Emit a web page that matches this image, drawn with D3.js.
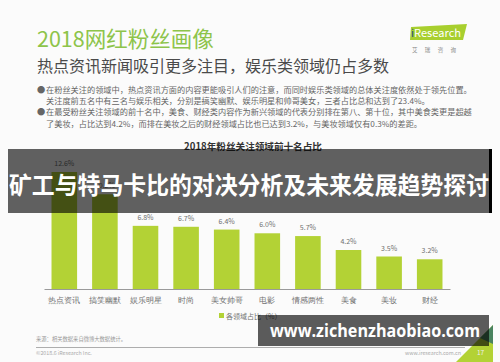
<!DOCTYPE html>
<meta charset="utf-8">
<style>
    body { margin: 0; background: #fbfbfb; }
    svg { font-family: "Noto Sans CJK SC", "Noto Sans", sans-serif; display: block; }
    .axis path { stroke: #9a9a9a; }
    .axis text { fill: #707070; font-size: 7.5px; }
</style>
<body>
<script src="https://d3js.org/d3.v7.min.js"></script>
<script>
    const width = 500, height = 362;

    // chart data
    const categories = ["热点资讯", "搞笑幽默", "娱乐明星", "时尚", "美女帅哥", "电影", "情感两性", "美食", "美妆", "财经"];
    const shares = [12.6, 10.2, 6.8, 6.7, 6.4, 6.0, 5.7, 4.2, 3.5, 3.2];

    const bullets = [
        ["● ", "在粉丝关注的领域中，热点资讯方面的内容更能吸引人们的注意，而同时娱乐类领域的总体关注度依然处于领先位置。"],
        ["", "关注度前五名中有三名与娱乐相关，分别是搞笑幽默、娱乐明星和帅哥美女，三者占比总和达到了23.4%。"],
        ["● ", "在最受粉丝关注领域的前十名中，美食、财经类内容作为新兴领域的代表分别排在第八、第十位，其中美食类更是超越"],
        ["", "了美妆，占比达到4.2%，而排在美妆之后的财经领域占比也已达到3.2%，与美妆领域仅有0.3%的差距。"]
    ];

    const green = "#b3d235";

    const svg = d3.select("body").append("svg")
        .attr("width", width)
        .attr("height", height);

    svg.append("rect").attr("width", width).attr("height", height).attr("fill", "#fbfbfb");

    // header
    svg.append("text")
        .attr("x", 37).attr("y", 47)
        .attr("fill", "#8dc44a")
        .style("font-size", "21.5px")
        .text("2018网红粉丝画像");

    svg.append("text")
        .attr("x", 37).attr("y", 72)
        .attr("fill", "#4a4a4a")
        .style("font-size", "16px")
        .text("热点资讯新闻吸引更多注目，娱乐类领域仍占多数");

    // logo
    const logo = svg.append("g");
    logo.append("path")
        .attr("d", "M411,27 L467,24 L463,40 L410,40 Z")
        .attr("fill", "#a8cf2e");
    const lt = logo.append("text")
        .attr("x", 411).attr("y", 37)
        .style("font-size", "11px")
        .attr("fill", "#fff")
        .attr("textLength", 50)
        .attr("lengthAdjust", "spacingAndGlyphs");
    lt.append("tspan").attr("fill", "#1d4e89").text("i");
    lt.append("tspan").text("Research");
    logo.append("text")
        .attr("x", 412).attr("y", 52)
        .attr("fill", "#888")
        .style("font-size", "5.5px")
        .attr("textLength", 44)
        .text("艾瑞咨询");

    // bullet paragraph
    svg.append("g").selectAll("text")
        .data(bullets)
        .join("text")
        .attr("y", (d, i) => 93 + i * 11.2)
        .attr("fill", "#666")
        .style("font-size", "8.2px")
        .each(function(d) {
            const t = d3.select(this);
            t.append("tspan").attr("x", 37).text(d[0] ? "●" : "");
            t.append("tspan").attr("x", 46).text(d[1]);
        });

    // chart title
    svg.append("text")
        .attr("x", 253).attr("y", 150)
        .attr("text-anchor", "middle")
        .attr("fill", "#333")
        .style("font-size", "9.6px")
        .style("font-weight", "bold")
        .text("2018年粉丝关注领域前十名占比");

    // scales
    const x = d3.scaleBand()
        .domain(categories)
        .range([44, 450])
        .paddingInner(0.37)
        .paddingOuter(0.185);

    const y = d3.scaleLinear()
        .domain([0, 14])
        .range([289, 159]);

    const chart = svg.append("g");

    chart.selectAll(".bar")
        .data(categories)
        .join("rect")
        .attr("class", "bar")
        .attr("x", d => x(d))
        .attr("y", (d, i) => y(shares[i]))
        .attr("width", x.bandwidth())
        .attr("height", (d, i) => y(0) - y(shares[i]))
        .attr("fill", green);

    chart.selectAll(".val")
        .data(categories)
        .join("text")
        .attr("class", "val")
        .attr("x", d => x(d) + x.bandwidth() / 2)
        .attr("y", (d, i) => y(shares[i]) - 6)
        .attr("text-anchor", "middle")
        .attr("fill", "#707070")
        .style("font-size", "7px")
        .text((d, i) => shares[i].toFixed(1) + "%");

    chart.append("g")
        .attr("class", "axis")
        .attr("transform", "translate(0," + y(0) + ")")
        .call(d3.axisBottom(x).tickSize(0).tickPadding(9).tickSizeOuter(0))
        .call(g => g.select(".domain").attr("stroke", "#9a9a9a"));

    // legend
    svg.append("rect")
        .attr("x", 219).attr("y", 313)
        .attr("width", 5).attr("height", 5)
        .attr("fill", green);
    svg.append("text")
        .attr("x", 226).attr("y", 318.5)
        .attr("fill", "#707070")
        .style("font-size", "7px")
        .text("各领域占比（%）");

    // footer
    svg.append("text")
        .attr("x", 36).attr("y", 341)
        .attr("fill", "#999")
        .style("font-size", "5.3px")
        .text("来源：相关数据来自微博大数据统计。");
    svg.append("line")
        .attr("x1", 36).attr("x2", 465)
        .attr("y1", 347.5).attr("y2", 347.5)
        .attr("stroke", "#999").attr("stroke-width", 0.8);
    svg.append("text")
        .attr("x", 36).attr("y", 355)
        .attr("fill", "#aaa")
        .style("font-size", "5.3px")
        .text("©2018.6 iResearch Inc.");
    svg.append("path")
        .attr("d", "M456,362 L493,325 L493,362 Z")
        .attr("fill", "#b3d235");
    svg.append("path")
        .attr("d", "M480,338 L493,325 L493,344 Z")
        .attr("fill", "#2f6f6a").attr("opacity", 0.8);
    svg.append("text")
        .attr("x", 405).attr("y", 355)
        .attr("fill", "#aaa")
        .style("font-size", "5.3px")
        .text("www.iresearch.com.cn");
    svg.append("text")
        .attr("x", 477).attr("y", 355)
        .attr("fill", "#eee")
        .style("font-size", "6.5px")
        .text("17");

    // overlay banner
    svg.append("rect")
        .attr("x", 8).attr("y", 149)
        .attr("width", 484).attr("height", 64)
        .attr("fill", "rgba(0,0,0,0.62)");
    svg.append("rect")
        .attr("x", 489).attr("y", 149)
        .attr("width", 3).attr("height", 64)
        .attr("fill", "#000");
    svg.append("text")
        .attr("x", 9).attr("y", 194)
        .attr("fill", "#fff")
        .style("font-size", "24px")
        .style("font-weight", "bold")
        .attr("textLength", 480)
        .attr("lengthAdjust", "spacingAndGlyphs")
        .text("矿工与特马卡比的对决分析及未来发展趋势探讨");

    // watermark box
    svg.append("rect")
        .attr("x", 258).attr("y", 315)
        .attr("width", 231).attr("height", 31)
        .attr("fill", "rgba(0,0,0,0.64)");
    svg.append("text")
        .attr("x", 270).attr("y", 337)
        .attr("fill", "#fff")
        .style("font-size", "17px")
        .style("font-weight", "bold")
        .style("font-family", "'Open Sans', sans-serif")
        .attr("textLength", 210)
        .attr("lengthAdjust", "spacingAndGlyphs")
        .text("www.zichenzhaobiao.com");
</script>
</body>
</html>
